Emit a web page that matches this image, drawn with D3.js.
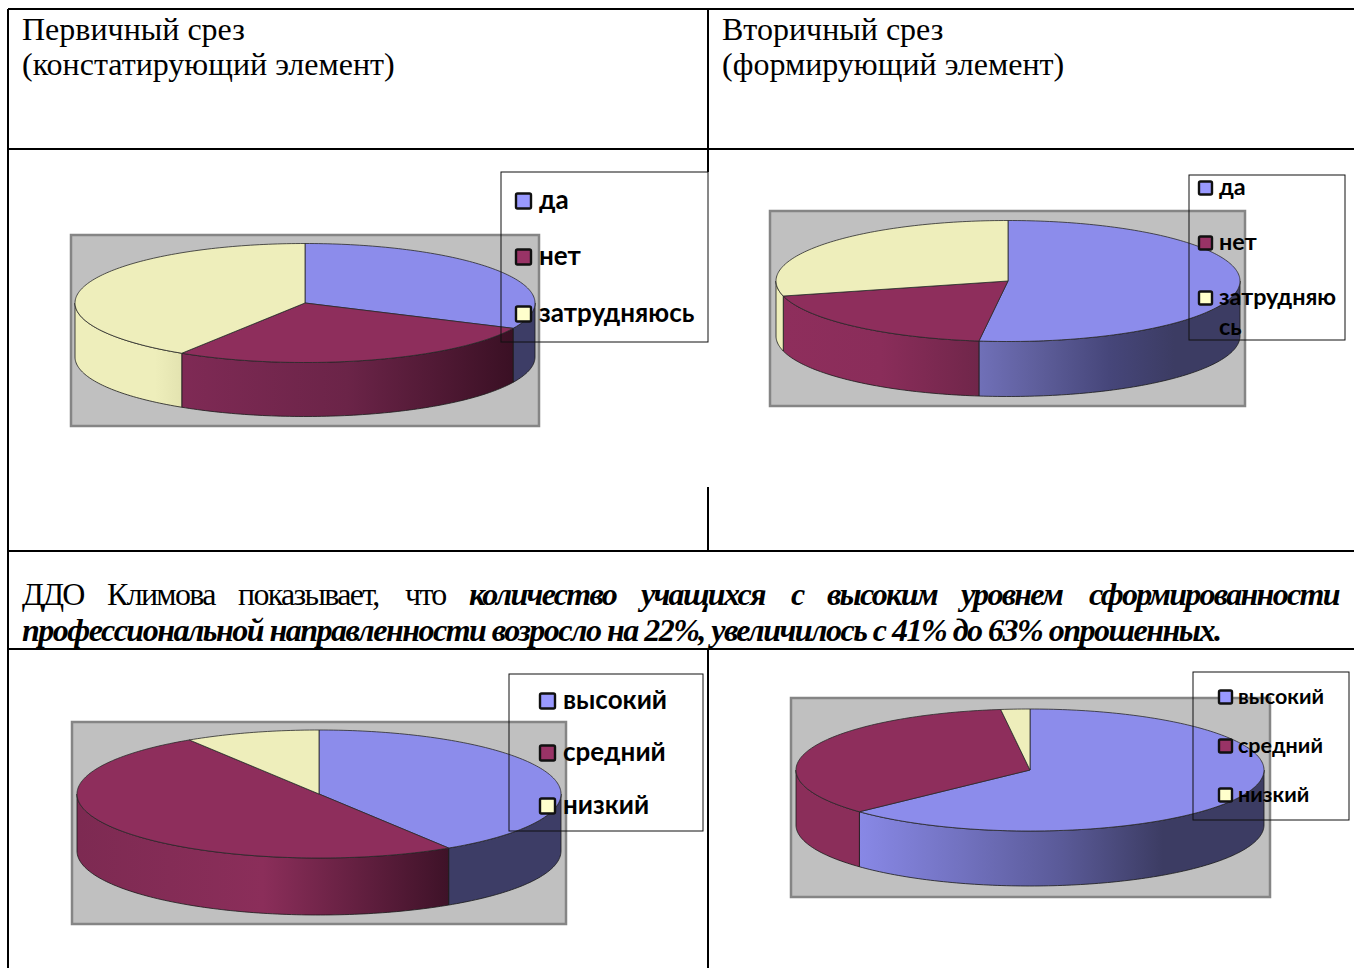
<!DOCTYPE html>
<html><head><meta charset="utf-8">
<script src="https://cdn.jsdelivr.net/npm/d3@7"></script>
<style>html,body{margin:0;padding:0;background:#fff}svg{display:block}</style>
</head><body><svg id="c" width="1354" height="968"></svg>
<script>
// ---- data ----
const seriesA = ["да", "нет", "затрудняюсь"];
const seriesB = ["высокий", "средний", "низкий"];
const valuesFirstA = [32, 27, 41];
const valuesSecondA = [52, 19, 29];
const valuesFirstB = [41, 50, 9];
const valuesSecondB = [63, 35, 2];
const headingLeft = ["Первичный срез", "(констатирующий элемент)"];
const headingRight = ["Вторичный срез", "(формирующий элемент)"];

// ---- layout and style ----
const topColors = ["#8c8ceb", "#8e2e5c", "#eeeebb"];
const swatchColors = ["#9999ff", "#993366", "#ffffcc"];
const Y=["#eeeebb","#eeeebb","#eeeebb","#eeeebb","#e3e3b0"];
const charts = [
 {names:seriesA, values:valuesFirstA, cx:305, cy:303, rx:230, ry:59.5, depth:54,
  frame:[71,235,539,426], legend:[501,172,708,342], sw:516, tx:539, ly:[200,256,313], fs:26,
  sides:[["#3d3d66","#3d3d66"],["#7f2a55","#6b2448","#3a1024"],Y]},
 {names:seriesA, values:valuesSecondA, cx:1008, cy:281, rx:232, ry:60.5, depth:55,
  frame:[770,211,1245,406], legend:[1189,175,1345,340], sw:1199, tx:1219, ly:[187,242,297], fs:23.4, wrap:true,
  sides:[["#7070b8","#5c5c98","#46467a","#3c3c63","#3c3c63"],["#8e2e5c","#8a2d5a","#70264a"],Y]},
 {names:seriesB, values:valuesFirstB, cx:319, cy:794, rx:242, ry:64, depth:57,
  frame:[72,722,566,924], legend:[509,674,703,831], sw:540, tx:563, ly:[700,752,805], fs:26,
  sides:[["#3d3d66","#3d3d66"],["#7d2a52","#8b2e5a","#3e1228"],["#eeeebb","#eeeebb"]]},
 {names:seriesB, values:valuesSecondB, cx:1030, cy:770, rx:234, ry:61, depth:55,
  frame:[791,698,1270,897], legend:[1193,672,1349,820], sw:1219, tx:1238, ly:[696,745,794], fs:21.5,
  sides:[["#8888e6","#7272c0","#5a5a98","#3c3c63","#3c3c63"],["#8b2e5a","#8b2e5a"],["#eeeebb","#eeeebb"]]}
];
const svg = d3.select("#c");
const defs = svg.append("defs");

// table rules
const rules = [[8,9,1354,9],[8,9,8,968],[8,149,1354,149],[8,551,1354,551],[8,649,1354,649],
               [708,9,708,172],[708,487,708,551],[708,649,708,968]];
svg.append("g").selectAll("line").data(rules).join("line")
  .attr("x1",d=>d[0]).attr("y1",d=>d[1]).attr("x2",d=>d[2]).attr("y2",d=>d[3])
  .attr("stroke","#000").attr("stroke-width",2);

// headings
const serif = "'Liberation Serif', serif";
function heading(lines,x){
  const t = svg.append("g").attr("font-family",serif).attr("font-size",32).attr("fill","#000");
  t.selectAll("text").data(lines).join("text").attr("x",x).attr("y",(d,i)=>40+i*35).text(d=>d);
}
heading(headingLeft,22); heading(headingRight,722);

// paragraph
const para1 = [["ДДО",22,0],["Климова",107,0],["показывает,",238,0],["что",405,0],
  ["количество",469,1],["учащихся",641,1],["с",791,1],["высоким",827,1],["уровнем",961,1],["сформированности",1089,1]];
const p1 = svg.append("text").attr("y",605).attr("font-family",serif).attr("font-size",32).attr("letter-spacing",-1.7).attr("fill","#000");
p1.selectAll("tspan").data(para1).join("tspan").attr("x",d=>d[1])
  .attr("font-weight",d=>d[2]?"bold":"normal").attr("font-style",d=>d[2]?"italic":"normal").text(d=>d[0]);
svg.append("text").attr("x",22).attr("y",641).attr("font-family",serif).attr("font-size",32)
  .attr("font-weight","bold").attr("font-style","italic").attr("fill","#000")
  .attr("textLength",1200).attr("lengthAdjust","spacing")
  .text("профессиональной направленности возросло на 22%, увеличилось с 41% до 63% опрошенных.");

// pies
charts.forEach((c,ci)=>{
  const g = svg.append("g");
  const [x0,y0,x1,y1] = c.frame;
  g.append("rect").attr("x",x0).attr("y",y0).attr("width",x1-x0).attr("height",y1-y0)
    .attr("fill","#c0c0c0").attr("stroke","#858585").attr("stroke-width",2.5);
  const arcs = d3.pie().sort(null)(c.values);
  const px = d3.scaleLinear().domain([-1,1]).range([c.cx-c.rx,c.cx+c.rx]);
  const py = d3.scaleLinear().domain([-1,1]).range([c.cy-c.ry,c.cy+c.ry]);
  const edge = d3.line().x(d=>px(Math.sin(d.a))).y(d=>py(-Math.cos(d.a))+d.h);
  const angleSamples = (a,b)=>{const n=Math.max(2,Math.ceil((b-a)/0.02));return d3.range(n+1).map(i=>a+(b-a)*i/n);};

  // side walls
  arcs.forEach((s,i)=>{
    const a=Math.max(s.startAngle,Math.PI/2), b=Math.min(s.endAngle,Math.PI*1.5);
    if(b<=a) return;
    const id=`g${ci}_${i}`, st=c.sides[i];
    const lg=defs.append("linearGradient").attr("id",id).attr("x1",0).attr("x2",1).attr("y1",0).attr("y2",0);
    st.forEach((col,k)=>lg.append("stop").attr("offset",k/(st.length-1)).attr("stop-color",col));
    const pts=angleSamples(a,b);
    const ring=pts.map(v=>({a:v,h:0})).concat(pts.slice().reverse().map(v=>({a:v,h:c.depth})));
    g.append("path").attr("d",edge(ring)+"Z").attr("fill",`url(#${id})`)
      .attr("stroke","#1a1a1a").attr("stroke-width",0.8);
  });
  // top slices
  arcs.forEach((s,i)=>{
    const pts=angleSamples(s.startAngle,s.endAngle).map(v=>[px(Math.sin(v)),py(-Math.cos(v))]);
    g.append("path").attr("d",d3.line()([[c.cx,c.cy],...pts])+"Z")
      .attr("fill",topColors[i]).attr("stroke","#2a2a2a").attr("stroke-width",0.8);
  });
  // legend
  const [l0,t0,l1,t1]=c.legend;
  g.append("rect").attr("x",l0).attr("y",t0).attr("width",l1-l0).attr("height",t1-t0)
    .attr("fill","none").attr("stroke","#111").attr("stroke-width",1);
  const sz=c.fs>25?15:13;
  c.names.forEach((n,i)=>{
    g.append("rect").attr("x",c.sw).attr("y",c.ly[i]-sz/2+1).attr("width",sz).attr("height",sz).attr("rx",1.5)
      .attr("fill",swatchColors[i]).attr("stroke","#111").attr("stroke-width",2.4);
    const label=g.append("text").attr("x",c.tx).attr("y",c.ly[i]+c.fs*0.36)
      .attr("font-family","Lato, sans-serif").attr("font-weight","bold").attr("font-size",c.fs).attr("fill","#000");
    if(c.wrap&&n.length>10){
      label.text(n.slice(0,9));
      g.append("text").attr("x",c.tx).attr("y",c.ly[i]+c.fs*0.36+30)
       .attr("font-family","Lato, sans-serif").attr("font-weight","bold").attr("font-size",c.fs).attr("fill","#000").text(n.slice(9));
    } else label.text(n);
  });
});
</script></body></html>
